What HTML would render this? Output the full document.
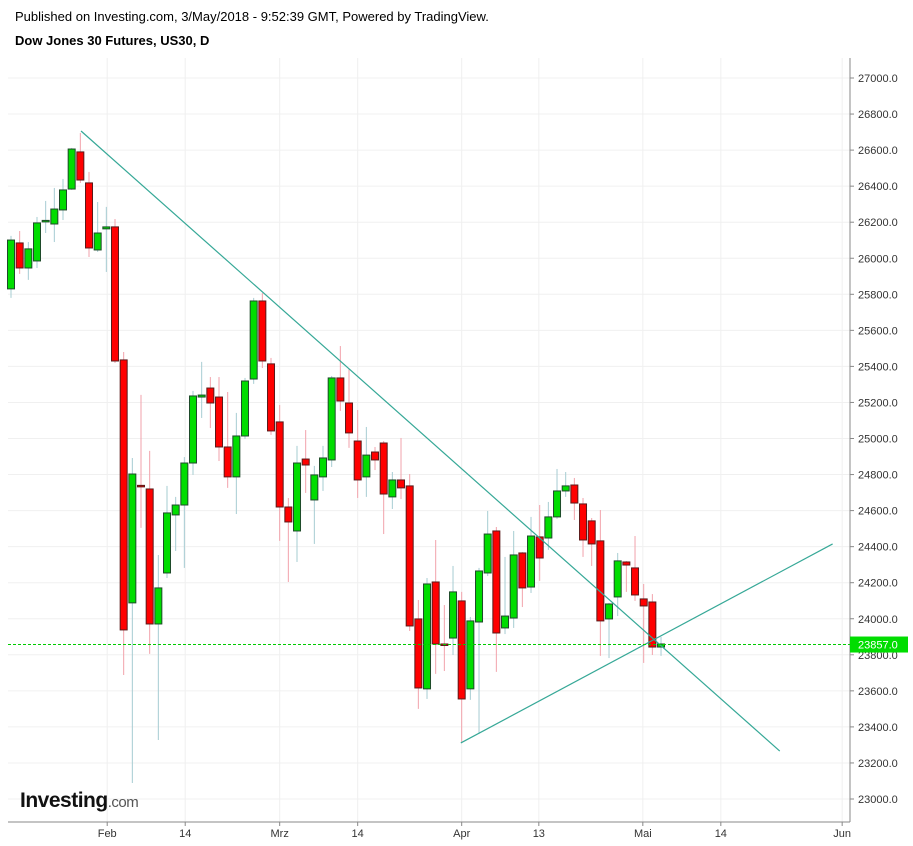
<!DOCTYPE html>
<html><head><meta charset="utf-8"><style>
body{margin:0;background:#fff;font-family:"Liberation Sans",sans-serif}
#wrap{position:relative;width:913px;height:846px;overflow:hidden}
.hdr{position:absolute;left:15px;font-size:13px;color:#000}
</style></head><body>
<div id="wrap">
<div class="hdr" style="top:9px">Published on Investing.com, 3/May/2018 - 9:52:39 GMT, Powered by TradingView.</div>
<div class="hdr" style="top:33px;font-weight:bold">Dow Jones 30 Futures, US30, D</div>
<svg id="chart" width="913" height="846" style="position:absolute;left:0;top:0"></svg>
</div>
<script>
const opens=[25830,26085,25946,25985,26207,26190,26268,26384,26590,26418,26046,26163,26174,25436,24088,24740,24720,23971,24254,24576,24631,24864,25230,25280,25230,24953,24787,25014,25330,25763,25414,25092,24620,24487,24886,24659,24787,24881,25336,25197,24986,24787,24925,24975,24676,24770,24737,23999,23611,24204,23860,23893,24099,23611,23982,24254,24487,23949,24004,24365,24176,24454,24448,24565,24709,24742,24637,24543,24432,23999,24121,24315,24282,24110,24093,23843];
const highs=[26124,26151,26090,26229,26318,26390,26440,26612,26695,26479,26312,26285,26218,25480,24892,25242,24931,24354,24737,24676,24897,25264,25425,25341,25341,25258,25142,25336,25780,25807,25447,25186,24670,24959,25047,24848,24959,25347,25513,25386,25158,25064,24953,24986,24814,25003,24803,24104,24226,24437,24076,24293,24149,24010,24282,24598,24509,24343,24487,24370,24565,24631,24648,24831,24814,24781,24670,24559,24603,24088,24365,24320,24459,24193,24137,23899];
const lows=[25780,25913,25880,25946,26140,26090,26212,26379,26418,26007,26035,25924,25419,23688,23089,24504,23805,23327,24226,24376,24282,24798,25114,25058,24875,24726,24581,24997,25303,25391,25020,24432,24204,24315,24698,24415,24709,24842,25153,24948,24670,24676,24825,24470,24609,24664,23932,23500,23555,23694,23710,23799,23311,23550,23361,24237,23705,23915,23949,24065,24143,24210,24382,24554,24676,24548,24343,24293,23794,23782,24015,24149,24099,23755,23799,23794];
const closes=[26101,25946,26052,26196,26210,26273,26379,26606,26434,26057,26140,26174,25430,23938,24803,24735,23971,24171,24587,24631,24864,25236,25241,25197,24953,24787,25014,25319,25763,25430,25042,24620,24537,24864,24853,24798,24892,25336,25208,25031,24770,24908,24881,24692,24770,24726,23960,23616,24193,23860,23855,24149,23555,23988,24265,24470,23921,24015,24354,24171,24459,24337,24565,24709,24737,24642,24437,24415,23988,24082,24321,24298,24132,24071,23843,23860];
const yTicks=[23000,23200,23400,23600,23800,24000,24200,24400,24600,24800,25000,25200,25400,25600,25800,26000,26200,26400,26600,26800,27000];
const xTickLabels=["Feb","14","Mrz","14","Apr","13","Mai","14","Jun"];
const xTickIdx=[11.1,20.1,31,40,52,60.9,72.9,81.9,95.9];
const trendDown=[[8.08,26706],[88.7,23266]];
const trendUp=[[51.9,23311],[94.8,24415]];
const lastPrice=23857;

const svg=document.getElementById('chart');
const NS='http://www.w3.org/2000/svg';
function y(v){return 78+(27000-v)*0.18025;}
function x(i){return 11+i*8.667;}
function mk(t,a,p){const e=document.createElementNS(NS,t);for(const k in a)e.setAttribute(k,a[k]);(p||svg).appendChild(e);return e;}
const L=8,R=850,T=58,B=822;
// grid
yTicks.forEach(v=>{const g=mk('line',{x1:L,x2:R,y1:y(v),y2:y(v),stroke:'#f0f0f0','stroke-width':1});


const t=mk('text',{x:858,y:y(v)+4,'font-size':11,fill:'#333','font-family':'Liberation Sans, sans-serif'});t.textContent=v.toFixed(1);


mk('line',{x1:R,x2:R+4,y1:y(v),y2:y(v),stroke:'#888'});});
xTickIdx.forEach((ix,k)=>{const g=mk('line',{x1:x(ix),x2:x(ix),y1:T,y2:B,stroke:'#f0f0f0'});


const t=mk('text',{x:x(ix),y:837,'font-size':11,fill:'#333','text-anchor':'middle','font-family':'Liberation Sans, sans-serif'});t.textContent=xTickLabels[k];


mk('line',{x1:x(ix),x2:x(ix),y1:B,y2:B+4,stroke:'#888'});});
const ax=mk('line',{x1:R,x2:R,y1:T,y2:B,stroke:'#888'});


const bx=mk('line',{x1:L,x2:R,y1:B,y2:B,stroke:'#888'});


// candles
for(let i=0;i<opens.length;i++){
 const up=closes[i]>=opens[i];const cx=x(i);
 const w=mk('line',{x1:cx,x2:cx,y1:y(highs[i]),y2:y(lows[i]),stroke:up?'#a6ccd2':'#f2a2ab','stroke-width':1});
 
 
 const top=y(Math.max(opens[i],closes[i])),bot=y(Math.min(opens[i],closes[i]));
 const r=mk('rect',{x:cx-3.5,y:top,width:7,height:Math.max(bot-top,1.5),fill:up?'#00dd00':'#ff0000',stroke:up?'#1e4a2a':'#5a1a1a','stroke-width':1});
 
 
}
// trend lines
[trendDown,trendUp].forEach((tl,k)=>{const l=mk('line',{x1:x(tl[0][0]),y1:y(tl[0][1]),x2:x(tl[1][0]),y2:y(tl[1][1]),stroke:'#36a897','stroke-width':1.2});

});
// last price
const pl=mk('line',{x1:L,x2:R,y1:y(lastPrice),y2:y(lastPrice),stroke:'#00cc00','stroke-dasharray':'3,2','stroke-width':1});


const pb=mk('rect',{x:R,y:y(lastPrice)-8,width:58,height:16,fill:'#00dd00'});


const pt=mk('text',{x:858,y:y(lastPrice)+4,'font-size':11,fill:'#fff','font-family':'Liberation Sans, sans-serif'});pt.textContent=lastPrice.toFixed(1);


// logo
const lg=mk('text',{x:20,y:807,'font-size':21,'font-weight':'bold',fill:'#111','font-family':'Liberation Sans, sans-serif','letter-spacing':'-0.5'});


lg.textContent='Investing';
const ts=mk('tspan',{'font-size':15,'font-weight':'normal',fill:'#555'},lg);ts.textContent='.com';
</script>
</body></html>
